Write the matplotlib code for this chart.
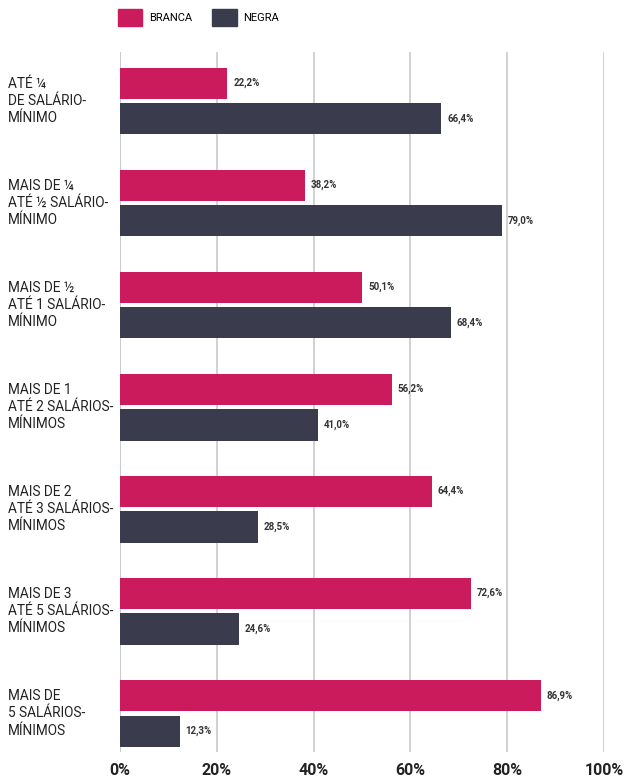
import numpy as np
import matplotlib.pyplot as plt
from matplotlib.patches import Patch

plt.rcParams['font.family'] = ['Roboto', 'DejaVu Sans']

categorias = [
    'ATÉ ¼\nDE SALÁRIO-\nMÍNIMO',
    'MAIS DE ¼\nATÉ ½ SALÁRIO-\nMÍNIMO',
    'MAIS DE ½\nATÉ 1 SALÁRIO-\nMÍNIMO',
    'MAIS DE 1\nATÉ 2 SALÁRIOS-\nMÍNIMOS',
    'MAIS DE 2\nATÉ 3 SALÁRIOS-\nMÍNIMOS',
    'MAIS DE 3\nATÉ 5 SALÁRIOS-\nMÍNIMOS',
    'MAIS DE\n5 SALÁRIOS-\nMÍNIMOS',
]
branca = [22.2, 38.2, 50.1, 56.2, 64.4, 72.6, 86.9]
negra = [66.4, 79.0, 68.4, 41.0, 28.5, 24.6, 12.3]
ticks = [0, 20, 40, 60, 80, 100]

cor_branca = '#cb1b5c'
cor_negra = '#3a3c4e'

fig = plt.figure(figsize=(6.26, 7.84), dpi=100)
ax = fig.add_axes([120 / 626, 32 / 784, (604 - 120) / 626, (752 - 52) / 784])

y = np.arange(len(categorias))
h = 0.305
off = 0.175

ax.barh(y - off, branca, height=h, color=cor_branca, zorder=3)
ax.barh(y + off, negra, height=h, color=cor_negra, zorder=3)

def fmt(v):
    return f'{v:.1f}%'.replace('.', ',')

for yi, v in zip(y, branca):
    ax.text(v + 1.2, yi - off, fmt(v), va='center', ha='left',
            fontsize=7, fontweight='bold', color='#333333')
for yi, v in zip(y, negra):
    ax.text(v + 1.2, yi + off, fmt(v), va='center', ha='left',
            fontsize=7, fontweight='bold', color='#333333')

ax.set_xlim(0, 100)
ax.set_ylim(len(categorias) - 1 + 0.38, -0.48)
ax.set_xticks(ticks)
ax.set_xticklabels([f'{t}%' for t in ticks], fontsize=11.5, fontweight='bold', color='#222222')
ax.set_yticks([])
ax.tick_params(axis='x', length=0, pad=8)
ax.grid(axis='x', color='#c9c9c9', lw=1.2, zorder=0)
for s in ax.spines.values():
    s.set_visible(False)
ax.axvline(0, color='#c9c9c9', lw=1.2, zorder=0)

# rótulos das categorias à esquerda
for yi, cat in zip(y, categorias):
    ax.annotate(cat, xy=(0, yi), xycoords=('figure fraction', 'data'),
                xytext=(8, 0), textcoords='offset pixels',
                ha='left', va='center', fontsize=9.8, color='#222222',
                linespacing=1.3)

handles = [Patch(color=cor_branca), Patch(color=cor_negra)]
fig.legend(handles, ['BRANCA', 'NEGRA'], loc='upper left',
           bbox_to_anchor=(118 / 626, 1 - 9 / 784), ncol=2, frameon=False,
           fontsize=8, handlelength=2.2, handleheight=2.0,
           handletextpad=0.6, columnspacing=1.8, borderpad=0, borderaxespad=0)

fig.savefig('out.png', dpi=100, facecolor='white')
